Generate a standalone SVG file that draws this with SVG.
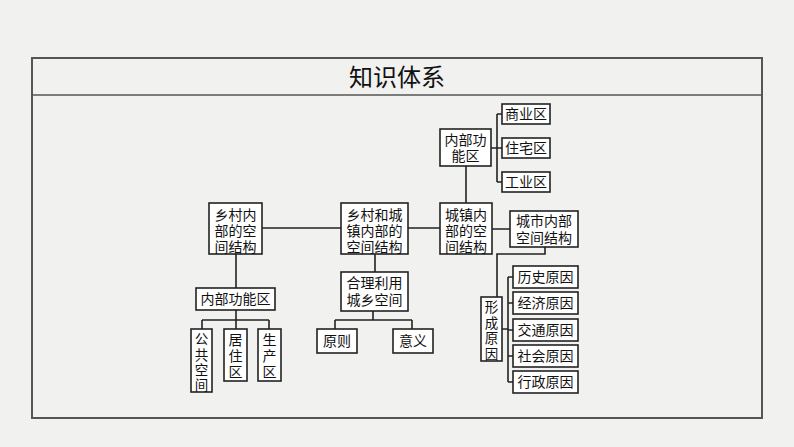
<svg xmlns="http://www.w3.org/2000/svg" width="794" height="447" viewBox="0 0 794 447">
<style>
.b{fill:#fff;stroke:#222;stroke-width:1.6}
.t{font-family:"Noto Sans CJK SC","Liberation Serif",serif;font-size:14px;fill:#111;text-anchor:middle}
.v{font-family:"Noto Sans CJK SC","Liberation Serif",serif;font-size:13.5px;fill:#111;text-anchor:middle}
.c{fill:none;stroke:#222;stroke-width:1.6}
</style>
<rect width="794" height="447" fill="#f1f1f0"/>
<rect x="32" y="58" width="730" height="360" fill="none" stroke="#555" stroke-width="2"/>
<line x1="32" y1="95" x2="762" y2="95" stroke="#555" stroke-width="1.5"/>
<text x="397" y="86" style="font-family:'Noto Sans CJK SC',sans-serif;font-size:24px;fill:#111" text-anchor="middle">知识体系</text>
<g id="connectors" class="c">
<path d="M262 228H341M408 228H440M236 254V288M236 310V320M202 320H269M202 320V329M236 320V329M269 320V329M375 254V272M373 311V320M335 320H412M335 320V329M412 320V329M466 166V203M491 148H497M497 114V182M497 114H502M497 148H502M497 182H502M492 229H510M545 247V254H497V297M502 329H508M508 277V382M508 277H513M508 303H513M508 330H513M508 356H513M508 382H513"/>
</g>
<g id="n1"><rect class="b" x="209" y="203" width="53" height="51"/><text class="t" x="235.5" y="220">乡村内</text><text class="t" x="235.5" y="236">部的空</text><text class="t" x="235.5" y="252">间结构</text></g>
<g id="n2"><rect class="b" x="341" y="203" width="67" height="51"/><text class="t" x="374.5" y="220">乡村和城</text><text class="t" x="374.5" y="236">镇内部的</text><text class="t" x="374.5" y="252">空间结构</text></g>
<g id="n3"><rect class="b" x="440" y="203" width="52" height="51"/><text class="t" x="466" y="220">城镇内</text><text class="t" x="466" y="236">部的空</text><text class="t" x="466" y="252">间结构</text></g>
<g id="n4"><rect class="b" x="196" y="288" width="79" height="22"/><text class="t" x="235.5" y="304">内部功能区</text></g>
<g id="n5"><rect class="b" x="191" y="329" width="21" height="63"/><text class="v" x="201.5" y="344">公</text><text class="v" x="201.5" y="359.5">共</text><text class="v" x="201.5" y="375">空</text><text class="v" x="201.5" y="390">间</text></g>
<g id="n6"><rect class="b" x="224" y="329" width="23" height="52"/><text class="t" x="235.5" y="345">居</text><text class="t" x="235.5" y="361">住</text><text class="t" x="235.5" y="377">区</text></g>
<g id="n7"><rect class="b" x="258" y="329" width="23" height="52"/><text class="t" x="269.5" y="345">生</text><text class="t" x="269.5" y="361">产</text><text class="t" x="269.5" y="377">区</text></g>
<g id="n8"><rect class="b" x="341" y="272" width="67" height="39"/><text class="t" x="374.5" y="288">合理利用</text><text class="t" x="374.5" y="305">城乡空间</text></g>
<g id="n9"><rect class="b" x="317" y="329" width="40" height="24"/><text class="t" x="337" y="346">原则</text></g>
<g id="n10"><rect class="b" x="393" y="329" width="40" height="24"/><text class="t" x="413" y="346">意义</text></g>
<g id="n11"><rect class="b" x="440" y="129" width="51" height="37"/><text class="t" x="465.5" y="145">内部功</text><text class="t" x="465.5" y="161">能区</text></g>
<g id="n12"><rect class="b" x="502" y="104" width="48" height="20"/><text class="t" x="526" y="119">商业区</text></g>
<g id="n13"><rect class="b" x="502" y="138" width="48" height="20"/><text class="t" x="526" y="153">住宅区</text></g>
<g id="n14"><rect class="b" x="502" y="172" width="48" height="20"/><text class="t" x="526" y="187">工业区</text></g>
<g id="n15"><rect class="b" x="510" y="211" width="68" height="36"/><text class="t" x="544" y="226">城市内部</text><text class="t" x="544" y="243">空间结构</text></g>
<g id="n16"><rect class="b" x="481" y="297" width="21" height="64"/><text class="v" x="491.5" y="312">形</text><text class="v" x="491.5" y="327.5">成</text><text class="v" x="491.5" y="343">原</text><text class="v" x="491.5" y="358.5">因</text></g>
<g id="n17"><rect class="b" x="513" y="266" width="65" height="22"/><text class="t" x="545.5" y="282">历史原因</text></g>
<g id="n18"><rect class="b" x="513" y="292" width="65" height="22"/><text class="t" x="545.5" y="308">经济原因</text></g>
<g id="n19"><rect class="b" x="513" y="319" width="65" height="22"/><text class="t" x="545.5" y="335">交通原因</text></g>
<g id="n20"><rect class="b" x="513" y="345" width="65" height="22"/><text class="t" x="545.5" y="361">社会原因</text></g>
<g id="n21"><rect class="b" x="513" y="371" width="65" height="22"/><text class="t" x="545.5" y="387">行政原因</text></g>
</svg>
